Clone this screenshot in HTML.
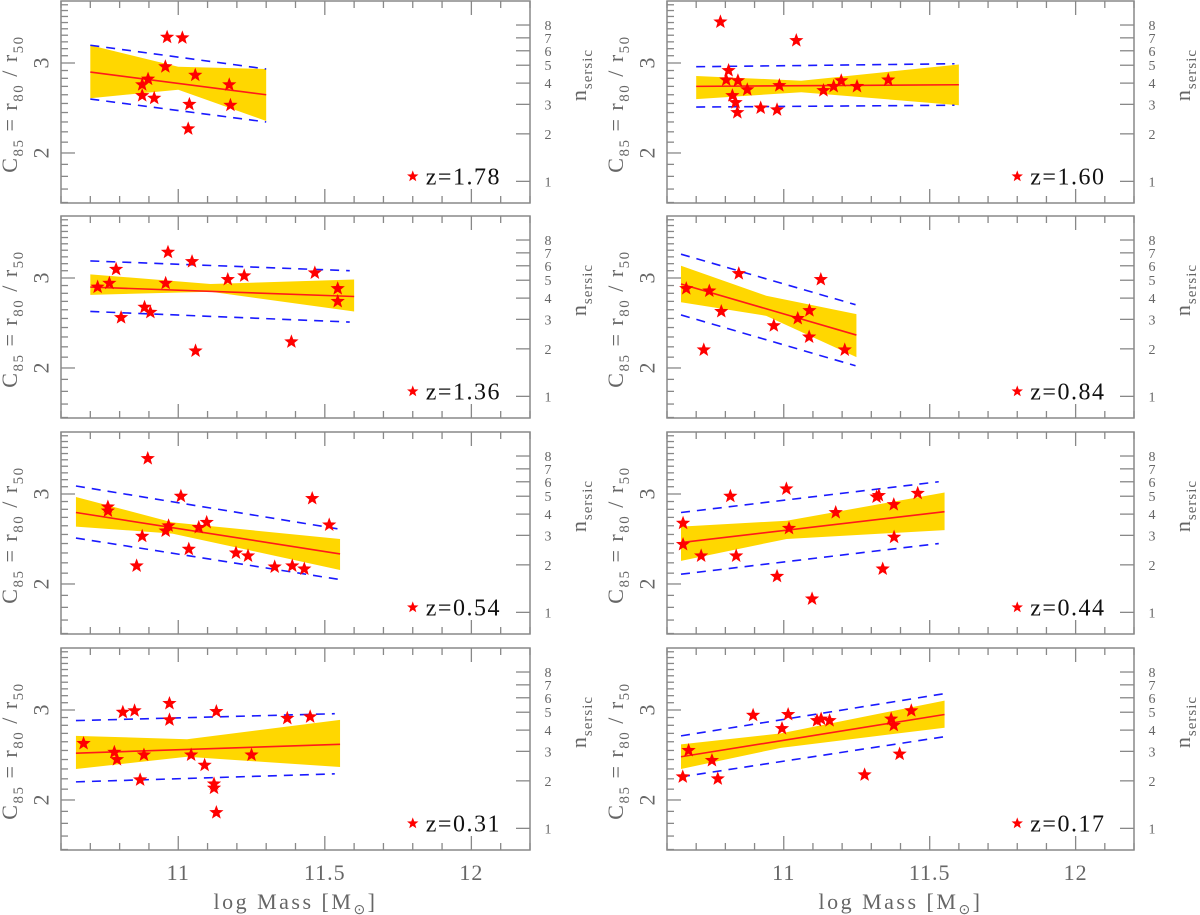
<!DOCTYPE html>
<html><head><meta charset="utf-8">
<style>
html,body{margin:0;padding:0;background:#fff;}
svg{display:block;font-family:"Liberation Serif",serif;}
</style></head>
<body>
<svg id="chart" width="1200" height="915" viewBox="0 0 1200 915" xmlns="http://www.w3.org/2000/svg"></svg>
<script>
// ---- data arrays ----
const zLabels = ["z=1.78","z=1.60","z=1.36","z=0.84","z=0.54","z=0.44","z=0.31","z=0.17"];
const massP0 = [10.962,11.014,10.956,11.058,10.897,10.877,10.877,10.918,11.038,11.174,11.178,11.034];
const concP0 = [3.37,3.36,2.95,2.84,2.79,2.72,2.59,2.56,2.49,2.72,2.48,2.23];
const massP1 = [10.783,11.043,10.811,10.803,10.843,10.875,10.985,10.824,10.835,10.841,10.921,10.977,11.136,11.171,11.197,11.251,11.358];
const concP1 = [3.61,3.32,2.90,2.78,2.77,2.66,2.71,2.59,2.51,2.40,2.45,2.43,2.65,2.70,2.77,2.70,2.78];
const massP2 = [10.725,10.765,10.788,10.805,10.885,10.905,10.957,10.965,11.047,11.059,11.169,11.225,11.386,11.466,11.544,11.544];
const concP2 = [2.88,2.93,3.12,2.51,2.63,2.57,2.93,3.37,3.23,2.16,2.98,3.03,2.25,3.07,2.86,2.70];
const massP3 = [10.666,10.745,10.786,10.846,10.726,10.966,11.048,11.088,11.087,11.127,11.209];
const concP3 = [2.86,2.83,2.58,3.06,2.17,2.42,2.50,2.59,2.30,2.98,2.17];
const massP4 = [10.760,10.760,10.896,10.877,10.858,10.957,10.967,11.009,11.036,11.070,11.097,11.197,11.238,11.329,11.389,11.430,11.457,11.515];
const concP4 = [2.83,2.78,3.52,2.48,2.17,2.54,2.60,2.97,2.34,2.58,2.64,2.30,2.27,2.16,2.17,2.14,2.94,2.61];
const massP5 = [10.655,10.655,10.717,10.817,10.837,10.977,11.009,11.018,11.097,11.178,11.318,11.326,11.339,11.377,11.378,11.459];
const concP5 = [2.63,2.39,2.27,2.97,2.27,2.07,3.07,2.57,1.87,2.76,2.96,2.98,2.14,2.86,2.47,3.01];
const massP6 = [10.677,10.782,10.791,10.811,10.851,10.870,10.883,10.970,10.970,11.044,11.090,11.122,11.122,11.130,11.130,11.250,11.372,11.450];
const concP6 = [2.58,2.48,2.40,2.97,2.99,2.19,2.45,3.09,2.87,2.45,2.34,2.15,2.11,1.89,2.98,2.45,2.89,2.91];
const massP7 = [10.674,10.654,10.754,10.774,10.895,10.994,11.015,11.114,11.128,11.157,11.277,11.368,11.377,11.397,11.437];
const concP7 = [2.50,2.22,2.39,2.20,2.93,2.76,2.94,2.86,2.88,2.86,2.24,2.88,2.80,2.46,2.99];
const starMass = [massP0,massP1,massP2,massP3,massP4,massP5,massP6,massP7];
const starConc = [concP0,concP1,concP2,concP3,concP4,concP5,concP6,concP7];
const fitMass = [[10.70,11.30],[10.70,11.60],[10.70,11.60],[10.648,11.249],[10.651,11.552],[10.648,11.551],[10.651,11.552],[10.648,11.551]];
const fitConc = [[2.88,2.60],[2.70,2.72],[2.88,2.76],[2.92,2.32],[2.76,2.29],[2.41,2.77],[2.47,2.57],[2.43,2.94]];
const bandMass = [[10.70,11.0,11.30],[10.70,11.06,11.60],[10.70,11.11,11.60],[10.648,10.94,11.249],[10.651,10.98,11.552],[10.648,11.01,11.551],[10.651,11.03,11.552],[10.648,10.99,11.551]];
const bandHi = [[3.25,2.95,2.92],[2.83,2.77,2.98],[3.05,2.92,2.98],[3.17,2.77,2.55],[2.96,2.64,2.45],[2.59,2.66,3.02],[2.67,2.63,2.87],[2.57,2.70,3.13]];
const bandLo = [[2.56,2.66,2.31],[2.55,2.63,2.48],[2.78,2.82,2.58],[2.69,2.53,2.10],[2.59,2.51,2.13],[2.22,2.45,2.55],[2.30,2.43,2.32],[2.30,2.53,2.77]];
const dashMass = [[10.70,11.30],[10.70,11.585],[10.70,11.585],[10.648,11.246],[10.651,11.552],[10.648,11.531],[10.651,11.534],[10.648,11.551]];
const dashUp = [[3.25,2.92],[2.95,2.99],[3.24,3.10],[3.34,2.66],[3.11,2.56],[2.76,3.17],[2.86,2.95],[2.67,3.23]];
const dashLo = [[2.55,2.30],[2.46,2.48],[2.58,2.46],[2.54,2.02],[2.46,2.04],[2.09,2.40],[2.17,2.25],[2.22,2.66]];
const labelMass = 11.8, labelConc = 1.80;
const xTickLabels = [11, 11.5, 12];
const yTickLabels = [2, 3];
const nTicks = [1,2,3,4,5,6,7,8];
const nTickConc = [1.76,2.18,2.49,2.74,2.97,3.17,3.36,3.56];

// ---- layout ----
const NS="http://www.w3.org/2000/svg";
const svg=document.getElementById('chart');
const cols=[{x0:61,x1:530},{x0:667,x1:1134}];
const rowTops=[1,216,432,648];
const PH=202, XMIN=10.6, XMAX=12.2;
function el(tag,attrs,parent){const e=document.createElementNS(NS,tag);for(const k in attrs)e.setAttribute(k,attrs[k]);(parent||svg).appendChild(e);return e;}
function xs(col,m){const c=cols[col];return c.x0+(m-XMIN)/(XMAX-XMIN)*(c.x1-c.x0);}
function ys(top,C){return top+62-511*Math.log10(C/3);}
function starPath(cx,cy,r){let p='';for(let i=0;i<10;i++){const rr=i%2?r*0.42:r;const a=-Math.PI/2+i*Math.PI/5;p+=(i?'L':'M')+(cx+rr*Math.cos(a)).toFixed(2)+' '+(cy+rr*Math.sin(a)).toFixed(2);}return p+'Z';}

for(let p=0;p<8;p++){
  const col=p%2,row=Math.floor(p/2),top=rowTops[row],c=cols[col];
  const g=el('g',{});
  
  
  const X=m=>xs(col,m),Y=C=>ys(top,C);
  let pts=[];
  for(let i=0;i<bandMass[p].length;i++)pts.push(X(bandMass[p][i])+','+Y(bandHi[p][i]));
  for(let i=bandMass[p].length-1;i>=0;i--)pts.push(X(bandMass[p][i])+','+Y(bandLo[p][i]));
  const band=el('polygon',{points:pts.join(' '),fill:'#ffd700'},g);
  
  
  [dashUp,dashLo].forEach((arr,k)=>{
    const d=el('line',{x1:X(dashMass[p][0]),y1:Y(arr[p][0]),x2:X(dashMass[p][1]),y2:Y(arr[p][1]),stroke:'#1a1aff','stroke-width':1.6,'stroke-dasharray':'9,7'},g);
    
    
  });
  const f=el('line',{x1:X(fitMass[p][0]),y1:Y(fitConc[p][0]),x2:X(fitMass[p][1]),y2:Y(fitConc[p][1]),stroke:'#ff1a1a','stroke-width':1.6},g);
  
  
  for(let i=0;i<starMass[p].length;i++){
    const s=el('path',{d:starPath(X(starMass[p][i]),Y(starConc[p][i]),7.5),fill:'#ff0000'},g);
    
    
  }
  const fr=el('rect',{x:c.x0,y:top,width:c.x1-c.x0,height:PH,fill:'none',stroke:'#888','stroke-width':1.5},g);
  
  
  for(let t=0;t<=16;t++){
    const m=XMIN+t*0.1,x=X(m);const major=(t%5===4);
    const L=major?14:7;
    el('line',{x1:x,y1:top,x2:x,y2:top+L,stroke:'#888','stroke-width':1.3},g);
    el('line',{x1:x,y1:top+PH,x2:x,y2:top+PH-L,stroke:'#888','stroke-width':1.3},g);
  }
  for(let t=16;t<=40;t++){
    const C=t/10,y=Y(C);if(y<top||y>top+PH)continue;
    const major=(t%10===0);
    el('line',{x1:c.x0,y1:y,x2:c.x0+(major?14:7),y2:y,stroke:'#888','stroke-width':1.3},g);
  }
  yTickLabels.forEach(v=>{
    const y=Y(v),x=c.x0-20;
    const t=el('text',{x:x,y:y,'font-size':22,fill:'#666','text-anchor':'middle','dominant-baseline':'central',transform:`rotate(-90 ${x} ${y})`},g);
    t.textContent=v;
    
    
  });
  nTicks.forEach((n,i)=>{
    const y=Y(nTickConc[i]);
    el('line',{x1:c.x1,y1:y,x2:c.x1-14,y2:y,stroke:'#888','stroke-width':1.3},g);
    const t=el('text',{x:c.x1+18,y:y+5,'font-size':14,fill:'#666','text-anchor':'middle'},g);
    t.textContent=n;
    
    
  });
  const yx=c.x0-44,yy=top+103;
  const yt=el('text',{x:yx,y:yy,'font-size':22,fill:'#666','text-anchor':'middle','letter-spacing':'1.5',transform:`rotate(-90 ${yx} ${yy})`},g);
  yt.innerHTML='C<tspan font-size="15" dy="6">85</tspan><tspan dy="-6">  =  r</tspan><tspan font-size="15" dy="6">80</tspan><tspan dy="-6"> / r</tspan><tspan font-size="15" dy="6">50</tspan>';
  
  
  const nx=c.x1+56,ny=top+74;
  const nt=el('text',{x:nx,y:ny,'font-size':22,fill:'#666','text-anchor':'middle','letter-spacing':'1',transform:`rotate(-90 ${nx} ${ny})`},g);
  nt.innerHTML='n<tspan font-size="15" dy="6">sersic</tspan>';
  
  
  const ls=el('path',{d:starPath(X(labelMass),Y(labelConc),6),fill:'#ff0000'},g);
  
  
  const zt=el('text',{x:X(labelMass)+13,y:Y(labelConc)+8,'font-size':24,fill:'#111','letter-spacing':'1.5'},g);
  zt.textContent=zLabels[p];
  
  
}
cols.forEach((c,col)=>{
  xTickLabels.forEach(v=>{
    const t=el('text',{x:xs(col,v),y:880,'font-size':22,fill:'#666','text-anchor':'middle','letter-spacing':'1'});
    t.textContent=v;
    
    
  });
  const t=el('text',{x:xs(col,11.4),y:909,'font-size':22,fill:'#666','text-anchor':'middle','letter-spacing':'2.5'});
  t.innerHTML='log Mass [M<tspan font-size="14" dy="5">⊙</tspan><tspan dy="-5">]</tspan>';
  
  
});
</script>
</body></html>
